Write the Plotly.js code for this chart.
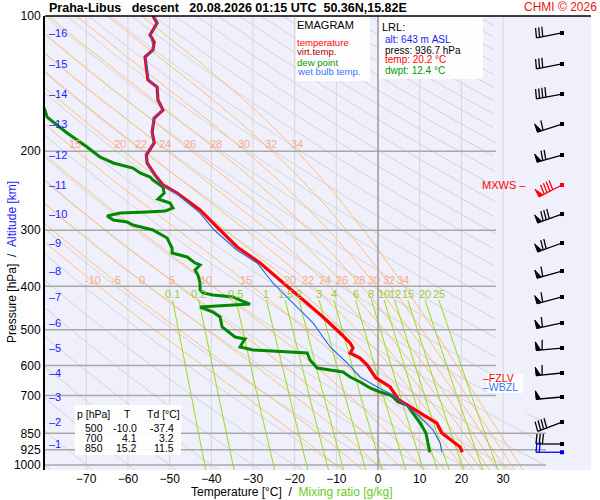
<!DOCTYPE html>
<html><head><meta charset="utf-8">
<script src="https://cdn.plot.ly/plotly-3.0.1.min.js"></script>
<style>html,body{margin:0;padding:0;background:#fff}#chart{width:600px;height:500px}</style>
</head><body><div id="chart"></div>
<script>
// ---------------- DATA ----------------
const pressLevels = [100, 200, 300, 400, 500, 600, 700, 850, 925, 1000];
const tempTicks = [-70, -60, -50, -40, -30, -20, -10, 0, 10, 20, 30];

const tempP = [100,103.7,110.2,114.3,119.0,123.4,129.9,138.8,143.9,153.8,162.0,168.8,181.3,191.8,204.0,212.5,226.0,237.9,247.9,270.4,295.1,326.9,354.9,393.2,435.8,468.1,513.4,535.0,548.9,563.0,577.7,598.8,640.0,670.4,716.5,765.9,806.3,848.7,893.4,911.9,936.7];
const tempT = [-54.0,-53.0,-54.7,-53.7,-54.0,-55.9,-55.6,-55.2,-53.0,-52.8,-51.6,-53.7,-54.2,-53.7,-55.6,-55.4,-53.5,-51.6,-48.2,-42.7,-38.6,-33.8,-28.3,-22.8,-17.0,-13.2,-8.6,-6.7,-6.0,-6.7,-4.3,-2.6,-0.5,2.9,5.0,10.1,14.1,15.3,18.5,19.7,20.2];

const dewP = [160.3,167.9,182.2,195.8,206.1,212.5,218.1,223.7,228.4,231.9,240.4,247.9,255.6,260.9,267.7,271.9,273.3,274.7,278.9,284.7,287.6,292.1,299.7,312.2,328.6,337.2,344.1,354.9,358.5,367.8,377.4,393.2,407.6,413.9,418.2,422.5,429.1,438.0,444.8,456.3,468.1,492.7,518.7,524.1,532.2,546.0,554.5,557.4,560.2,563.0,583.6,608.1,620.7,636.8,653.3,673.8,687.7,698.4,705.6,724.0,735.2,765.9,806.3,848.7,879.7,936.7];
const dewTd = [-80.1,-79.4,-74.6,-69.8,-66.7,-63.5,-58.8,-57.1,-54.7,-54.0,-51.6,-51.3,-52.8,-49.9,-49.2,-51.1,-55.4,-61.9,-65.0,-63.5,-60.2,-58.8,-54.0,-50.6,-49.4,-49.4,-45.8,-43.9,-42.7,-43.9,-43.2,-42.7,-42.7,-42.0,-39.6,-34.8,-33.1,-30.7,-42.7,-39.6,-37.9,-37.4,-34.3,-31.9,-32.4,-33.1,-30.0,-24.2,-18.7,-17.0,-16.3,-14.6,-8.4,-6.7,-4.3,-1.9,0.5,2.9,3.6,4.8,7.0,8.4,10.1,11.5,11.8,12.4];

const wetP = [100,103.7,110.2,119.0,123.4,138.8,143.9,153.8,162.0,168.8,181.3,191.8,204.0,212.5,226.0,237.9,247.9,273.3,299.7,332.0,354.9,393.2,435.8,482.7,546.0,592.7,636.8,670.4,698.4,724.0,781.8,835.6,893.4,936.7];
const wetTw = [-53.8,-52.9,-54.6,-53.8,-55.8,-55.0,-52.9,-52.8,-51.7,-53.8,-54.3,-53.8,-55.7,-55.5,-53.6,-51.8,-48.5,-42.9,-39.3,-33.9,-29.0,-25.2,-20.4,-15.6,-11.5,-7.4,-4.3,-0.2,3.6,5.7,10.1,13.2,14.9,15.3];

const kmLabels = [1,2,3,4,5,6,7,8,9,10,11,12,13,14,15,16];
const kmP = [898.0,802.3,705.6,623.9,548.9,482.7,422.5,369.8,320.3,276.1,237.9,204.0,174.0,149.2,127.9,109.1];

const windP = [109.1,127.9,149.2,174.0,204.0,237.9,276.1,320.3,369.8,422.5,482.7,548.9,623.9,705.6,802.3,898.0,936.7];
const windDir = [259,259,259,252,254,243,250,250,254,255,258,265,264,265,249,270,270];
const windSpd = [30,30,40,60,70,90,80,70,60,60,60,60,60,50,40,30,20];

const moistTw = [-10,-5,0,5,10,15,20,22,24,26,28,30,32,34];
const moistRowTop = [15,20,22,24,26,28,30,32,34];
const mixRatio = [0.1,0.2,0.5,1,1.5,2,3,4,6,8,10,12,15,20,25];
const mixLabels = ['0.1','0.2','0.5','1','1.5','2','3','4','6','8','10','12','15','20','25'];

const tableP = [500, 700, 850];
const tableT = [-10.0, 4.1, 15.2];
const tableTd = [-37.4, 3.2, 11.5];

const lrlAlt = 643, lrlPress = 936.7, lrlTemp = 20.2, lrlDwpt = 12.4;
const fzlvP = 641, wbzlP = 671, mxwsP = 237.9;

// ---------------- GEOMETRY ----------------
const L = 45, R = 591, TOP = 16, BOT = 470;
const W = R - L, H = BOT - TOP;
const X0 = -79.9, X1 = 51.1, PTOP = 100, PBOT = 1026;
const tPerPx = (X1 - X0) / W;
const decPerPx = (Math.log10(PBOT) - Math.log10(PTOP)) / H;
const px2T = px => X0 + (px - L) * tPerPx;
const fx = px => (px - L) / W;
const fy = py => (BOT - py) / H;
const tClipHi = px2T(496), tClipLo = px2T(546);
const tmax = p => (p < 765 ? tClipHi : tClipLo);
const FONT = 'Liberation Sans, Arial, sans-serif';

const samp = [];
for (let i = 0; i <= 240; i++) samp.push(PTOP * Math.pow(PBOT / PTOP, i / 240));

const traces = [];

// vertical grid
{
  const x = [], y = [];
  tempTicks.forEach(t => { if (t !== 0) { x.push(t, t, null); y.push(PTOP, PBOT, null); } });
  traces.push({x, y, mode:'lines', line:{color:'#d6d6d6', width:1}, hoverinfo:'skip'});
}
// dry adiabats
{
  const x = [], y = [];
  for (let th = -80; th <= 330; th += 10) {
    samp.forEach(p => {
      const T = (th + 273.15) * Math.pow(p / 1000, 0.2857) - 273.15;
      if (T > tmax(p)) { x.push(null); y.push(null); } else { x.push(T); y.push(p); }
    });
    x.push(null); y.push(null);
  }
  traces.push({x, y, mode:'lines', line:{color:'#d4d4d4', width:1}, hoverinfo:'skip'});
}
// moist (pseudo) adiabats
function dTdlnp(T, lnp) {
  const p = Math.exp(lnp), Tc = T - 273.15;
  const e = 6.112 * Math.exp(17.67 * Tc / (Tc + 243.5));
  const rs = 0.622 * e / (p - e);
  return (287.04 * T + 2.501e6 * rs) / (1005.7 + 2.501e6 * 2.501e6 * rs * 0.622 / (287.04 * T * T));
}
function rk(T, lp, h) {
  const k1 = dTdlnp(T, lp), k2 = dTdlnp(T + h/2*k1, lp + h/2), k3 = dTdlnp(T + h/2*k2, lp + h/2), k4 = dTdlnp(T + h*k3, lp + h);
  return T + h/6*(k1 + 2*k2 + 2*k3 + k4);
}
function moistCurve(tw) {
  const pts = [];
  const h = 0.004;
  let T = tw + 273.15, lp = Math.log(1000);
  const low = [];
  while (lp < Math.log(PBOT)) { T = rk(T, lp, h); lp += h; low.push([Math.exp(lp), T - 273.15]); }
  low.reverse().forEach(q => pts.push(q));
  T = tw + 273.15; lp = Math.log(1000);
  pts.push([1000, tw]);
  let n = 0;
  while (lp > Math.log(PTOP)) {
    T = rk(T, lp, -h); lp -= h; n++;
    if (n % 3 === 0) pts.push([Math.exp(lp), T - 273.15]);
  }
  return pts;
}
function tAt(curve, p) {
  for (let i = 0; i < curve.length - 1; i++) {
    const a = curve[i], b = curve[i+1];
    if ((a[0] - p) * (b[0] - p) <= 0) {
      const f = (Math.log(p) - Math.log(a[0])) / (Math.log(b[0]) - Math.log(a[0]));
      return a[1] + f * (b[1] - a[1]);
    }
  }
  return null;
}
const moistCurves = {};
{
  const x = [], y = [];
  moistTw.forEach(tw => {
    const c = moistCurve(tw); moistCurves[tw] = c;
    c.forEach(([p, T]) => {
      if (T > tmax(p)) { x.push(null); y.push(null); } else { x.push(T); y.push(p); }
    });
    x.push(null); y.push(null);
  });
  traces.push({x, y, mode:'lines', line:{color:'#ffc078', width:1}, hoverinfo:'skip'});
}
// mixing ratio lines
const mixTop = 429;
function tdFromW(w, p) {
  const e = w * p / (622 + w);
  const g = Math.log(e / 6.112);
  return 243.5 * g / (17.67 - g);
}
{
  const x = [], y = [];
  const ps = [mixTop].concat(samp.filter(p => p > mixTop));
  mixRatio.forEach(w => {
    ps.forEach(p => { x.push(tdFromW(w, p)); y.push(p); });
    x.push(null); y.push(null);
  });
  traces.push({x, y, mode:'lines', line:{color:'#99dd11', width:1}, hoverinfo:'skip'});
}
// horizontal grid lines
{
  const x = [], y = [];
  pressLevels.forEach(p => {
    if (p === 100) return;
    x.push(X0, p >= 850 ? tClipLo : tClipHi, null); y.push(p, p, null);
  });
  traces.push({x, y, mode:'lines', line:{color:'#a8a8a8', width:1.5}, hoverinfo:'skip'});
  traces.push({x:[0,0], y:[PTOP,PBOT], mode:'lines', line:{color:'#9a9a9a', width:1.5}, hoverinfo:'skip'});
}
// sounding curves
traces.push({x: dewTd, y: dewP, mode:'lines', line:{color:'#008800', width:3}, hoverinfo:'skip'});
traces.push({x: tempT, y: tempP, mode:'lines', line:{color:'#ff0000', width:3.2}, hoverinfo:'skip'});
traces.push({x: wetTw, y: wetP, mode:'lines', line:{color:'#2266ee', width:1.1}, hoverinfo:'skip'});

// wind barbs
const barbT = px2T(562);
const mxIdx = windP.indexOf(mxwsP);
const barbGroups = {};
windP.forEach((p0, i) => {
  const col = i === mxIdx ? '#ff0000' : (i === windP.length - 1 ? '#0000ee' : '#000000');
  if (!barbGroups[col]) barbGroups[col] = {lx:[], ly:[], fx:[], fy:[], dx:[], dy:[]};
  const g = barbGroups[col];
  const toD = (dx, dy) => [barbT + dx * tPerPx, p0 * Math.pow(10, dy * decPerPx)];
  const r = windDir[i] * Math.PI / 180;
  const ux = Math.sin(r), uy = -Math.cos(r);
  const nx = -uy, ny = ux;
  const Ls = 26, Ex = ux * Ls, Ey = uy * Ls;
  const seg = (a, b) => { const A = toD(a[0], a[1]), B = toD(b[0], b[1]); g.lx.push(A[0], B[0], null); g.ly.push(A[1], B[1], null); };
  seg([0, 0], [Ex, Ey]);
  let s = windSpd[i], pos = 0;
  const nP = Math.floor(s / 50); s -= nP * 50;
  const nF = Math.floor(s / 10); s -= nF * 10;
  const half = s >= 5;
  for (let k = 0; k < nP; k++) {
    const b1 = [Ex - ux * pos, Ey - uy * pos];
    const tip = [b1[0] + nx * 8.5, b1[1] + ny * 8.5];
    const b2 = [Ex - ux * (pos + 4.5), Ey - uy * (pos + 4.5)];
    [b1, tip, b2, b1].forEach(q => { const d = toD(q[0], q[1]); g.fx.push(d[0]); g.fy.push(d[1]); });
    g.fx.push(null); g.fy.push(null);
    pos += 4.5;
  }
  if (nP) pos += 1.5;
  for (let k = 0; k < nF; k++) {
    const b = [Ex - ux * pos, Ey - uy * pos];
    seg(b, [b[0] + nx * 10 - ux * 1, b[1] + ny * 10 - uy * 1]);
    pos += 3.2;
  }
  if (half) {
    const b = [Ex - ux * pos, Ey - uy * pos];
    seg(b, [b[0] + nx * 5, b[1] + ny * 5]);
  }
  const d0 = toD(0, 0); g.dx.push(d0[0]); g.dy.push(d0[1]);
});
Object.keys(barbGroups).forEach(col => {
  const g = barbGroups[col];
  traces.push({x:g.fx, y:g.fy, mode:'lines', fill:'toself', fillcolor:col, line:{color:col, width:1}, hoverinfo:'skip'});
  traces.push({x:g.lx, y:g.ly, mode:'lines', line:{color:col, width:1.3}, hoverinfo:'skip'});
  traces.push({x:g.dx, y:g.dy, mode:'markers', marker:{symbol:'square', size:4, color:col}, hoverinfo:'skip'});
});

// ---------------- ANNOTATIONS ----------------
const ann = [];
function A(px, py, text, o) {
  o = o || {};
  ann.push(Object.assign({xref:'paper', yref:'paper', x:fx(px), y:fy(py), text, showarrow:false,
    xanchor:'left', yanchor:'middle', font:{family:FONT, size:11, color:'#000'}, borderpad:0, borderwidth:0}, o));
}
const nb = s => s.replace(/ /g, '\u00a0');
A(49, 8, '<b>' + nb('Praha-Libus   descent   20.08.2026 01:15 UTC  50.36N,15.82E') + '</b>', {font:{family:FONT, size:12.5, color:'#000'}});
A(597, 7, nb('CHMI © 2026'), {xanchor:'right', font:{family:FONT, size:12, color:'#ee1111'}});

// legend box text
A(297, 25, 'EMAGRAM', {font:{family:FONT, size:11, color:'#000'}});
[['temperature','#ff0000'],['virt.temp.','#aa0000'],['dew point','#009900'],['wet bulb temp.','#3377ff']].forEach((it, k) => {
  A(297, 42 + 10 * k, it[0], {font:{family:FONT, size:9.6, color:it[1]}});
});
// LRL box
A(382, 27, 'LRL:', {font:{family:FONT, size:11, color:'#000'}});
A(385, 40, nb('alt: ' + lrlAlt + ' m ASL'), {font:{family:FONT, size:10, color:'#1a1aff'}});
A(385, 50, nb('press: ' + lrlPress.toFixed(1) + ' hPa'), {font:{family:FONT, size:10, color:'#000'}});
A(385, 60, nb('temp: ' + lrlTemp.toFixed(1) + ' °C'), {font:{family:FONT, size:10, color:'#ff0000'}});
A(385, 70, nb('dwpt: ' + lrlDwpt.toFixed(1) + ' °C'), {font:{family:FONT, size:10, color:'#009900'}});

// table
A(77, 414, nb('p [hPa]'), {font:{family:FONT, size:10.5, color:'#000'}});
A(127, 414, 'T', {xanchor:'center', font:{family:FONT, size:10.5, color:'#000'}});
A(147, 414, nb('Td [°C]'), {font:{family:FONT, size:10.5, color:'#000'}});
tableP.forEach((p, k) => {
  const py = 427.5 + 10.2 * k;
  const f = {family:FONT, size:10.5, color:'#000'};
  A(103, py, String(p), {xanchor:'right', font:f});
  A(137, py, tableT[k].toFixed(1), {xanchor:'right', font:f});
  A(174, py, tableTd[k].toFixed(1), {xanchor:'right', font:f});
});

// altitude labels
kmLabels.forEach((km, k) => {
  ann.push({xref:'x', yref:'y', x:px2T(47), y:Math.log10(kmP[k]), text:'–' + km, showarrow:false,
    xanchor:'left', yanchor:'middle', font:{family:FONT, size:11, color:'#1a1aff'}});
});

// moist adiabat labels
const pRow1 = 192.8, pRow2 = 387.3;
moistRowTop.forEach(tw => {
  const t = tAt(moistCurves[tw], pRow1) + 7 * tPerPx;
  ann.push({xref:'x', yref:'y', x:t, y:Math.log10(pRow1), text:String(tw), showarrow:false,
    xanchor:'center', yanchor:'middle', font:{family:FONT, size:11, color:'#f7a88a'}});
});
moistTw.forEach(tw => {
  const t = tAt(moistCurves[tw], pRow2) + 2.5 * tPerPx;
  ann.push({xref:'x', yref:'y', x:t, y:Math.log10(pRow2), text:String(tw), showarrow:false,
    xanchor:'center', yanchor:'middle', font:{family:FONT, size:11, color:'#f7a88a'}});
});
// mixing ratio labels
mixRatio.forEach((w, k) => {
  ann.push({xref:'x', yref:'y', x:tdFromW(w, mixTop), y:Math.log10(416), text:mixLabels[k], showarrow:false,
    xanchor:'center', yanchor:'middle', font:{family:FONT, size:11, color:'#99cc33'}});
});

// level markers
ann.push({xref:'x', yref:'y', x:px2T(481), y:Math.log10(fzlvP), text:'–FZLV', showarrow:false, xanchor:'left', yanchor:'middle', font:{family:FONT, size:10.5, color:'#ff0000'}});
ann.push({xref:'x', yref:'y', x:px2T(481), y:Math.log10(wbzlP), text:'–WBZL', showarrow:false, xanchor:'left', yanchor:'middle', font:{family:FONT, size:10.5, color:'#3377ff'}});
ann.push({xref:'x', yref:'y', x:px2T(528), y:Math.log10(mxwsP), text:nb('MXWS –'), showarrow:false, xanchor:'right', yanchor:'middle', font:{family:FONT, size:11, color:'#ff0000'}});

// axis titles
A(292, 492, nb('Temperature [°C]  /  ') + '<span style="color:#66cc22">' + nb('Mixing ratio [g/kg]') + '</span>', {xanchor:'center', font:{family:FONT, size:12, color:'#000'}});
A(12, 262, nb('Pressure [hPa]  /  ') + '<span style="color:#1a1aff">' + nb('Altitude [km]') + '</span>', {xanchor:'center', textangle:-90, font:{family:FONT, size:12, color:'#000'}});

// boxes
const box = (x0, y0, x1, y1) => ({type:'rect', xref:'paper', yref:'paper', x0:fx(x0), x1:fx(x1), y0:fy(y1), y1:fy(y0),
  fillcolor:'rgba(255,255,255,0.92)', line:{width:0}, layer:'above'});
const shapes = [
  box(296, 17, 370, 81),
  box(379, 17, 483, 79),
  box(75, 405, 181, 455),
  box(487, 374, 523, 393),
  {type:'line', xref:'paper', yref:'paper', x0:0, x1:1, y0:1, y1:1, line:{color:'#000', width:1.5}, layer:'above'}
];

const layout = {
  width:600, height:500,
  margin:{l:L, r:600 - R, t:TOP, b:500 - BOT, pad:0},
  paper_bgcolor:'#ffffff', plot_bgcolor:'#f0f0fc',
  showlegend:false,
  xaxis:{range:[X0, X1], tickvals:tempTicks, ticks:'', showgrid:false, zeroline:false, showline:false,
    tickfont:{family:FONT, size:12, color:'#000'}, fixedrange:true},
  yaxis:{type:'log', range:[Math.log10(PBOT), Math.log10(PTOP)], tickvals:pressLevels, ticktext:pressLevels.map(String),
    ticks:'', showgrid:false, zeroline:false, showline:true, linecolor:'#000', linewidth:2,
    tickfont:{family:FONT, size:12, color:'#000'}, fixedrange:true},
  annotations:ann, shapes:shapes, hovermode:false
};
Plotly.newPlot('chart', traces, layout, {displayModeBar:false, staticPlot:true});
</script>
</body></html>
